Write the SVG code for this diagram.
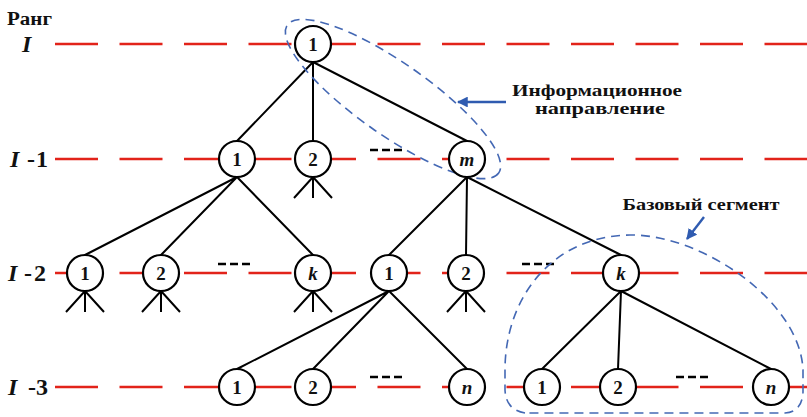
<svg xmlns="http://www.w3.org/2000/svg" width="807" height="417" viewBox="0 0 807 417">
  <defs>
    <style>
      .rank { stroke: #e2231a; stroke-width: 2.6; stroke-dasharray: 43 21.5; fill: none; }
      .edge { stroke: #000; stroke-width: 2; fill: none; stroke-linecap: round; }
      .dots { stroke: #000; stroke-width: 2.6; stroke-dasharray: 8 4; fill: none; }
      .zone { stroke: #4468b4; stroke-width: 1.6; stroke-dasharray: 9 6; fill: none; }
      .ptr { stroke: #2f5bb0; stroke-width: 2.4; fill: none; }
      .node circle { fill: #fff; stroke: #000; stroke-width: 2.2; }
      .node text { font-family: "Liberation Serif", "DejaVu Serif", serif; font-weight: bold; font-size: 19px; text-anchor: middle; fill: #111; }
      .node text.v { font-style: italic; }
      .lbl { font-family: "Liberation Serif", "DejaVu Serif", serif; font-weight: bold; fill: #111; }
      .row { font-family: "Liberation Serif", "DejaVu Serif", serif; font-weight: bold; font-size: 24px; fill: #111; }
    </style>
    <marker id="head" viewBox="0 0 10 10" refX="9" refY="5" markerWidth="4.5" markerHeight="4.5" orient="auto">
      <path d="M0,0 L10,5 L0,10 Z" fill="#2f5bb0"/>
    </marker>
    <g id="legs">
      <path d="M0,18 L-19,39 M0,18 L0,39 M0,18 L19,39" stroke="#000" stroke-width="2" fill="none"/>
    </g>
  </defs>

  <rect width="807" height="417" fill="#fff"/>

  <!-- rank levels -->
  <g id="levels">
    <line class="rank" x1="55" y1="44" x2="807" y2="44"/>
    <line class="rank" x1="55" y1="159" x2="807" y2="159"/>
    <line class="rank" x1="55" y1="273" x2="807" y2="273"/>
    <line class="rank" x1="55" y1="387" x2="807" y2="387"/>
  </g>

  <!-- rank labels -->
  <g id="rank-labels">
    <text class="lbl" x="7" y="25" font-size="18" textLength="45" lengthAdjust="spacingAndGlyphs">Ранг</text>
    <text class="row" y="52"><tspan x="22" font-style="italic">I</tspan></text>
    <text class="row" y="167"><tspan x="10" font-style="italic">I</tspan><tspan x="27">-</tspan><tspan x="36">1</tspan></text>
    <text class="row" y="281"><tspan x="8" font-style="italic">I</tspan><tspan x="24">-</tspan><tspan x="34">2</tspan></text>
    <text class="row" y="395"><tspan x="8" font-style="italic">I</tspan><tspan x="28">-</tspan><tspan x="36">3</tspan></text>
  </g>

  <!-- tree edges -->
  <g id="connectors">
    <path class="edge" d="M313,62 L237,141 M313,62 L313,141 M313,62 L467,141"/>
    <path class="edge" d="M237,177 L85,255 M237,177 L161,255 M237,177 L313,255"/>
    <path class="edge" d="M467,177 L389,255 M467,177 L466,255 M467,177 L621,255"/>
    <path class="edge" d="M389,291 L237,369 M389,291 L313,369 M389,291 L467,369"/>
    <path class="edge" d="M621,291 L542,369 M621,291 L618,369 M621,291 L771,369"/>
    <use href="#legs" x="313" y="159"/>
    <use href="#legs" x="85" y="273"/>
    <use href="#legs" x="161" y="273"/>
    <use href="#legs" x="313" y="273"/>
    <use href="#legs" x="466" y="273"/>
    <!-- omitted siblings -->
    <line class="dots" x1="370" y1="150" x2="402" y2="150"/>
    <line class="dots" x1="218" y1="264" x2="250" y2="264"/>
    <line class="dots" x1="522" y1="264" x2="554" y2="264"/>
    <line class="dots" x1="370" y1="377" x2="402" y2="377"/>
    <line class="dots" x1="676" y1="377" x2="708" y2="377"/>
    <!-- pointers to the outlined regions -->
    <line class="ptr" x1="506" y1="102" x2="458" y2="102" marker-end="url(#head)"/>
    <line class="ptr" x1="704" y1="217" x2="687" y2="239" marker-end="url(#head)"/>
  </g>

  <!-- outlined regions -->
  <g id="info-direction">
    <ellipse class="zone" cx="393" cy="99" rx="129" ry="36" transform="rotate(35 393 99)"/>
    <text class="lbl" x="597" y="96" font-size="17" text-anchor="middle" textLength="170" lengthAdjust="spacingAndGlyphs">Информационное</text>
    <text class="lbl" x="600" y="114" font-size="17" text-anchor="middle" textLength="130" lengthAdjust="spacingAndGlyphs">направление</text>
  </g>
  <g id="base-segment">
    <path class="zone" d="M525,413 Q506,410 505,390 L505,370 C505,300 550,236 630,235 C700,234 800,300 803,370 L803,392 Q802,412 785,413 Z"/>
    <text class="lbl" x="701" y="210" font-size="17" text-anchor="middle" textLength="157" lengthAdjust="spacingAndGlyphs">Базовый сегмент</text>
  </g>

  <!-- nodes -->
  <g id="n-root" class="node"><circle cx="313" cy="44" r="18"/><text x="313" y="50.5">1</text></g>

  <g id="n-1-1" class="node"><circle cx="237" cy="159" r="18"/><text x="237" y="165.5">1</text></g>
  <g id="n-1-2" class="node"><circle cx="313" cy="159" r="18"/><text x="313" y="165.5">2</text></g>
  <g id="n-1-m" class="node"><circle cx="467" cy="159" r="18"/><text class="v" x="467" y="165.5">m</text></g>

  <g id="n-2-1a" class="node"><circle cx="85" cy="273" r="18"/><text x="85" y="279.5">1</text></g>
  <g id="n-2-2a" class="node"><circle cx="161" cy="273" r="18"/><text x="161" y="279.5">2</text></g>
  <g id="n-2-ka" class="node"><circle cx="313" cy="273" r="18"/><text class="v" x="313" y="279.5">k</text></g>
  <g id="n-2-1b" class="node"><circle cx="389" cy="273" r="18"/><text x="389" y="279.5">1</text></g>
  <g id="n-2-2b" class="node"><circle cx="466" cy="273" r="18"/><text x="466" y="279.5">2</text></g>
  <g id="n-2-kb" class="node"><circle cx="621" cy="273" r="18"/><text class="v" x="621" y="279.5">k</text></g>

  <g id="n-3-1a" class="node"><circle cx="237" cy="387" r="18"/><text x="237" y="393.5">1</text></g>
  <g id="n-3-2a" class="node"><circle cx="313" cy="387" r="18"/><text x="313" y="393.5">2</text></g>
  <g id="n-3-na" class="node"><circle cx="467" cy="387" r="18"/><text class="v" x="467" y="393.5">n</text></g>
  <g id="n-3-1b" class="node"><circle cx="542" cy="387" r="18"/><text x="542" y="393.5">1</text></g>
  <g id="n-3-2b" class="node"><circle cx="618" cy="387" r="18"/><text x="618" y="393.5">2</text></g>
  <g id="n-3-nb" class="node"><circle cx="771" cy="387" r="18"/><text class="v" x="771" y="393.5">n</text></g>
</svg>
